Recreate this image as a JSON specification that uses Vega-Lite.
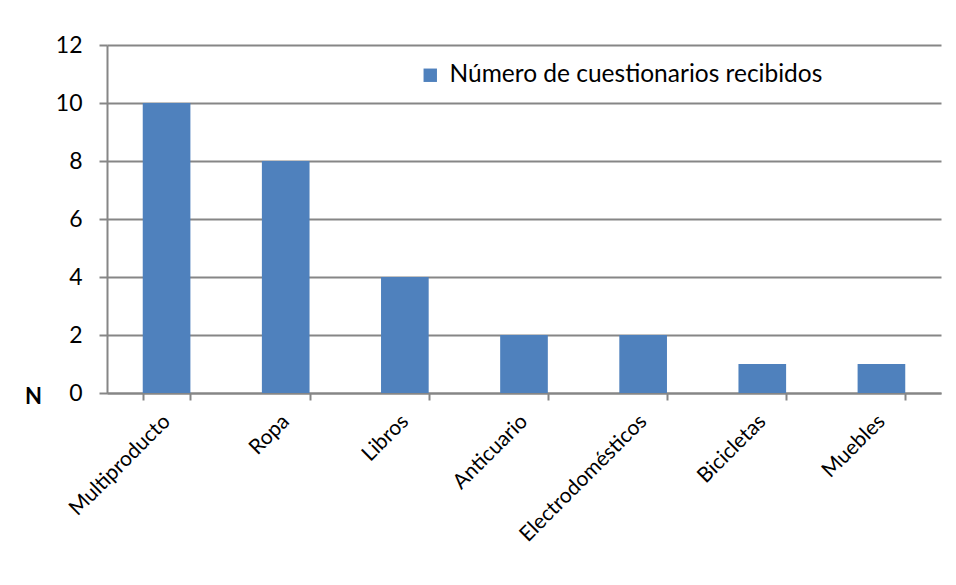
{
  "$schema": "https://vega.github.io/schema/vega-lite/v6.json",
  "autosize": "none",
  "width": 834,
  "height": 348,
  "padding": {"left": 107, "top": 45, "right": 15, "bottom": 192},
  "background": "white",
  "data": {
    "values": [
      {"categoria": "Multiproducto", "n": 10, "serie": "Número de cuestionarios recibidos"},
      {"categoria": "Ropa", "n": 8, "serie": "Número de cuestionarios recibidos"},
      {"categoria": "Libros", "n": 4, "serie": "Número de cuestionarios recibidos"},
      {"categoria": "Anticuario", "n": 2, "serie": "Número de cuestionarios recibidos"},
      {"categoria": "Electrodomésticos", "n": 2, "serie": "Número de cuestionarios recibidos"},
      {"categoria": "Bicicletas", "n": 1, "serie": "Número de cuestionarios recibidos"},
      {"categoria": "Muebles", "n": 1, "serie": "Número de cuestionarios recibidos"}
    ]
  },
  "mark": {"type": "bar"},
  "encoding": {
    "x": {
      "field": "categoria",
      "type": "nominal",
      "sort": null,
      "scale": {"paddingInner": 0.6, "paddingOuter": 0.3},
      "axis": {
        "title": null,
        "labelAngle": -45,
        "labelAlign": "right",
        "labelBaseline": "middle",
        "labelFontSize": 21,
        "labelFont": "Lato",
        "labelColor": "#000000",
        "labelPadding": 18,
        "labelLimit": 400,
        "tickBand": "extent",
        "tickSize": 7,
        "tickColor": "#868686",
        "tickWidth": 2,
        "domainColor": "#868686",
        "domainWidth": 2,
        "grid": false
      }
    },
    "y": {
      "field": "n",
      "type": "quantitative",
      "scale": {"domain": [0, 12], "nice": false},
      "axis": {
        "values": [0, 2, 4, 6, 8, 10, 12],
        "title": "N",
        "titleAngle": 0,
        "titleX": -74,
        "titleY": 351,
        "titleAlign": "center",
        "titleBaseline": "middle",
        "titleFontSize": 22,
        "titleFont": "Lato",
        "titleFontWeight": "bold",
        "titleColor": "#000000",
        "labelFontSize": 23,
        "labelFont": "Lato",
        "labelColor": "#000000",
        "labelPadding": 17,
        "tickSize": 8,
        "tickColor": "#868686",
        "tickWidth": 2,
        "domainColor": "#868686",
        "domainWidth": 2,
        "grid": true,
        "gridColor": "#868686",
        "gridWidth": 2
      }
    },
    "color": {
      "field": "serie",
      "type": "nominal",
      "scale": {"range": ["#4F81BD"]},
      "legend": {
        "title": null,
        "orient": "none",
        "legendX": 311,
        "legendY": 18,
        "symbolType": "square",
        "symbolSize": 180,
        "symbolStrokeWidth": 0,
        "labelFontSize": 24.5,
        "labelFont": "Lato",
        "labelColor": "#000000",
        "labelOffset": 7,
        "labelLimit": 600
      }
    }
  },
  "config": {"view": {"stroke": null}}
}
